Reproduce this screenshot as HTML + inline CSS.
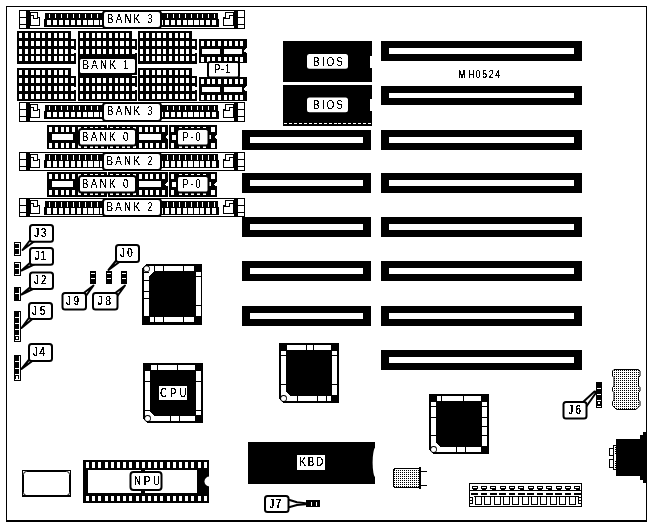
<!DOCTYPE html><html><head><meta charset="utf-8"><style>html,body{margin:0;padding:0;background:#fff}svg{display:block}text{font-family:"Liberation Sans",sans-serif;fill:#000}</style></head><body><svg width="652" height="527" viewBox="0 0 652 527" shape-rendering="crispEdges"><defs><pattern id="dots" width="2" height="2" patternUnits="userSpaceOnUse"><rect width="2" height="2" fill="#fff"/><rect x="0" y="0" width="1" height="1" fill="#000"/></pattern>
<filter id="th" filterUnits="userSpaceOnUse" x="0" y="0" width="652" height="527" color-interpolation-filters="sRGB"><feComponentTransfer><feFuncA type="discrete" tableValues="0 0 0 0 0 0 0 0 1 1 1 1 1 1 1 1 1 1 1 1"/></feComponentTransfer></filter>
<filter id="th2" filterUnits="userSpaceOnUse" x="0" y="0" width="652" height="527" color-interpolation-filters="sRGB"><feComponentTransfer><feFuncA type="discrete" tableValues="0 0 0 0 0 1 1 1 1 1 1 1 1 1 1 1 1 1 1 1"/></feComponentTransfer></filter></defs><rect x="6" y="6" width="641" height="1" fill="#000"/>
<rect x="6" y="6" width="1" height="515" fill="#000"/>
<rect x="646" y="6" width="1" height="515" fill="#000"/>
<rect x="6" y="520" width="641" height="2" fill="#000"/>
<rect x="381" y="41" width="201" height="20" fill="#000"/>
<rect x="389" y="48" width="185" height="6" fill="#fff"/>
<rect x="381" y="86" width="201" height="19" fill="#000"/>
<rect x="389" y="93" width="185" height="5" fill="#fff"/>
<rect x="381" y="130" width="201" height="20" fill="#000"/>
<rect x="389" y="137" width="185" height="6" fill="#fff"/>
<rect x="242" y="130" width="129" height="20" fill="#000"/>
<rect x="250" y="137" width="113" height="6" fill="#fff"/>
<rect x="381" y="173" width="201" height="20" fill="#000"/>
<rect x="389" y="180" width="185" height="6" fill="#fff"/>
<rect x="242" y="173" width="129" height="20" fill="#000"/>
<rect x="250" y="180" width="113" height="6" fill="#fff"/>
<rect x="381" y="217" width="201" height="20" fill="#000"/>
<rect x="389" y="224" width="185" height="6" fill="#fff"/>
<rect x="242" y="217" width="129" height="20" fill="#000"/>
<rect x="250" y="224" width="113" height="6" fill="#fff"/>
<rect x="381" y="261" width="201" height="20" fill="#000"/>
<rect x="389" y="268" width="185" height="6" fill="#fff"/>
<rect x="242" y="261" width="129" height="20" fill="#000"/>
<rect x="250" y="268" width="113" height="6" fill="#fff"/>
<rect x="381" y="306" width="201" height="20" fill="#000"/>
<rect x="389" y="313" width="185" height="6" fill="#fff"/>
<rect x="242" y="306" width="129" height="20" fill="#000"/>
<rect x="250" y="313" width="113" height="6" fill="#fff"/>
<rect x="381" y="350" width="201" height="20" fill="#000"/>
<rect x="389" y="357" width="185" height="6" fill="#fff"/>
<rect x="283" y="41" width="89" height="41" fill="#000"/>
<rect x="370" y="56" width="2" height="12" fill="#fff"/>
<rect x="307" y="54" width="41" height="14.8" rx="2.5" fill="#fff" shape-rendering="geometricPrecision"/>
<rect x="283" y="85" width="89" height="41" fill="#000"/>
<rect x="370" y="99" width="2" height="12" fill="#fff"/>
<rect x="307" y="97.5" width="41" height="14.8" rx="2.5" fill="#fff" shape-rendering="geometricPrecision"/>
<rect x="284" y="123" width="3" height="1" fill="#fff"/>
<rect x="288.95" y="123" width="3" height="1" fill="#fff"/>
<rect x="293.9" y="123" width="3" height="1" fill="#fff"/>
<rect x="298.85" y="123" width="3" height="1" fill="#fff"/>
<rect x="303.8" y="123" width="3" height="1" fill="#fff"/>
<rect x="308.75" y="123" width="3" height="1" fill="#fff"/>
<rect x="313.7" y="123" width="3" height="1" fill="#fff"/>
<rect x="318.65" y="123" width="3" height="1" fill="#fff"/>
<rect x="323.6" y="123" width="3" height="1" fill="#fff"/>
<rect x="328.55" y="123" width="3" height="1" fill="#fff"/>
<rect x="333.5" y="123" width="3" height="1" fill="#fff"/>
<rect x="338.45" y="123" width="3" height="1" fill="#fff"/>
<rect x="343.4" y="123" width="3" height="1" fill="#fff"/>
<rect x="348.35" y="123" width="3" height="1" fill="#fff"/>
<rect x="353.3" y="123" width="3" height="1" fill="#fff"/>
<rect x="358.25" y="123" width="3" height="1" fill="#fff"/>
<rect x="363.2" y="123" width="3" height="1" fill="#fff"/>
<rect x="368.15" y="123" width="3" height="1" fill="#fff"/>
<rect x="19" y="10" width="226" height="19" fill="#000"/>
<rect x="20" y="11" width="224" height="17" fill="#fff"/>
<rect x="26" y="10" width="1" height="19" fill="#000"/>
<rect x="19" y="17" width="8" height="1" fill="#000"/>
<rect x="19" y="24" width="8" height="1" fill="#000"/>
<rect x="27" y="11" width="3" height="17" fill="#000"/>
<rect x="30" y="12" width="10" height="14" fill="#000"/>
<rect x="31" y="13" width="8" height="12" fill="#fff"/>
<rect x="31" y="15" width="3" height="1" fill="#000"/>
<rect x="33" y="15" width="1" height="4" fill="#000"/>
<rect x="33" y="18" width="5" height="1" fill="#000"/>
<rect x="38" y="12" width="2" height="5" fill="#fff"/>
<rect x="37" y="12" width="1" height="6" fill="#000"/>
<rect x="37" y="17" width="3" height="1" fill="#000"/>
<rect x="237" y="10" width="1" height="19" fill="#000"/>
<rect x="237" y="17" width="8" height="1" fill="#000"/>
<rect x="237" y="24" width="8" height="1" fill="#000"/>
<rect x="234" y="11" width="3" height="17" fill="#000"/>
<rect x="223" y="12" width="11" height="14" fill="#000"/>
<rect x="224" y="13" width="9" height="12" fill="#fff"/>
<rect x="229" y="15" width="4" height="1" fill="#000"/>
<rect x="229" y="15" width="1" height="4" fill="#000"/>
<rect x="224" y="18" width="6" height="1" fill="#000"/>
<rect x="223" y="12" width="2" height="5" fill="#fff"/>
<rect x="225" y="12" width="1" height="6" fill="#000"/>
<rect x="223" y="17" width="3" height="1" fill="#000"/>
<rect x="45.4" y="13" width="57.6" height="7" fill="#000"/>
<rect x="44.4" y="19" width="58.6" height="8" fill="#000"/>
<rect x="46.8" y="20" width="4.2" height="5.3" fill="#fff"/>
<rect x="49" y="14" width="1" height="4.3" fill="#fff"/>
<rect x="52.75" y="20" width="4.2" height="5.3" fill="#fff"/>
<rect x="54.95" y="14" width="1" height="4.3" fill="#fff"/>
<rect x="58.7" y="20" width="4.2" height="5.3" fill="#fff"/>
<rect x="60.9" y="14" width="1" height="4.3" fill="#fff"/>
<rect x="64.65" y="20" width="4.2" height="5.3" fill="#fff"/>
<rect x="66.85" y="14" width="1" height="4.3" fill="#fff"/>
<rect x="70.6" y="20" width="4.2" height="5.3" fill="#fff"/>
<rect x="72.8" y="14" width="1" height="4.3" fill="#fff"/>
<rect x="76.55" y="20" width="4.2" height="5.3" fill="#fff"/>
<rect x="78.75" y="14" width="1" height="4.3" fill="#fff"/>
<rect x="82.5" y="20" width="4.2" height="5.3" fill="#fff"/>
<rect x="84.7" y="14" width="1" height="4.3" fill="#fff"/>
<rect x="88.45" y="20" width="4.2" height="5.3" fill="#fff"/>
<rect x="90.65" y="14" width="1" height="4.3" fill="#fff"/>
<rect x="94.4" y="20" width="4.2" height="5.3" fill="#fff"/>
<rect x="96.6" y="14" width="1" height="4.3" fill="#fff"/>
<rect x="100.35" y="20" width="4.2" height="5.3" fill="#fff"/>
<rect x="102.55" y="14" width="1" height="4.3" fill="#fff"/>
<rect x="160" y="13" width="58" height="7" fill="#000"/>
<rect x="160" y="19" width="59.3" height="8" fill="#000"/>
<rect x="159.1" y="20" width="4.2" height="5.3" fill="#fff"/>
<rect x="161.3" y="14" width="1" height="4.3" fill="#fff"/>
<rect x="164.97" y="20" width="4.2" height="5.3" fill="#fff"/>
<rect x="167.17" y="14" width="1" height="4.3" fill="#fff"/>
<rect x="170.85" y="20" width="4.2" height="5.3" fill="#fff"/>
<rect x="173.05" y="14" width="1" height="4.3" fill="#fff"/>
<rect x="176.72" y="20" width="4.2" height="5.3" fill="#fff"/>
<rect x="178.92" y="14" width="1" height="4.3" fill="#fff"/>
<rect x="182.6" y="20" width="4.2" height="5.3" fill="#fff"/>
<rect x="184.8" y="14" width="1" height="4.3" fill="#fff"/>
<rect x="188.47" y="20" width="4.2" height="5.3" fill="#fff"/>
<rect x="190.67" y="14" width="1" height="4.3" fill="#fff"/>
<rect x="194.35" y="20" width="4.2" height="5.3" fill="#fff"/>
<rect x="196.55" y="14" width="1" height="4.3" fill="#fff"/>
<rect x="200.22" y="20" width="4.2" height="5.3" fill="#fff"/>
<rect x="202.42" y="14" width="1" height="4.3" fill="#fff"/>
<rect x="206.1" y="20" width="4.2" height="5.3" fill="#fff"/>
<rect x="208.3" y="14" width="1" height="4.3" fill="#fff"/>
<rect x="211.97" y="20" width="4.2" height="5.3" fill="#fff"/>
<rect x="214.17" y="14" width="1" height="4.3" fill="#fff"/>
<rect x="102" y="10" width="60" height="19" rx="4" fill="#000" shape-rendering="geometricPrecision"/>
<rect x="104" y="12" width="56" height="15" rx="2" fill="#fff" shape-rendering="geometricPrecision"/>
<rect x="19" y="102" width="226" height="20" fill="#000"/>
<rect x="20" y="103" width="224" height="18" fill="#fff"/>
<rect x="26" y="102" width="1" height="20" fill="#000"/>
<rect x="19" y="109" width="8" height="1" fill="#000"/>
<rect x="19" y="116" width="8" height="1" fill="#000"/>
<rect x="27" y="103" width="3" height="18" fill="#000"/>
<rect x="30" y="104" width="10" height="14" fill="#000"/>
<rect x="31" y="105" width="8" height="12" fill="#fff"/>
<rect x="31" y="107" width="3" height="1" fill="#000"/>
<rect x="33" y="107" width="1" height="4" fill="#000"/>
<rect x="33" y="110" width="5" height="1" fill="#000"/>
<rect x="38" y="104" width="2" height="5" fill="#fff"/>
<rect x="37" y="104" width="1" height="6" fill="#000"/>
<rect x="37" y="109" width="3" height="1" fill="#000"/>
<rect x="237" y="102" width="1" height="20" fill="#000"/>
<rect x="237" y="109" width="8" height="1" fill="#000"/>
<rect x="237" y="116" width="8" height="1" fill="#000"/>
<rect x="234" y="103" width="3" height="18" fill="#000"/>
<rect x="223" y="104" width="11" height="14" fill="#000"/>
<rect x="224" y="105" width="9" height="12" fill="#fff"/>
<rect x="229" y="107" width="4" height="1" fill="#000"/>
<rect x="229" y="107" width="1" height="4" fill="#000"/>
<rect x="224" y="110" width="6" height="1" fill="#000"/>
<rect x="223" y="104" width="2" height="5" fill="#fff"/>
<rect x="225" y="104" width="1" height="6" fill="#000"/>
<rect x="223" y="109" width="3" height="1" fill="#000"/>
<rect x="45.4" y="105" width="57.6" height="7" fill="#000"/>
<rect x="44.4" y="111" width="58.6" height="8" fill="#000"/>
<rect x="46.8" y="112" width="4.2" height="5.3" fill="#fff"/>
<rect x="49" y="106" width="1" height="4.3" fill="#fff"/>
<rect x="52.75" y="112" width="4.2" height="5.3" fill="#fff"/>
<rect x="54.95" y="106" width="1" height="4.3" fill="#fff"/>
<rect x="58.7" y="112" width="4.2" height="5.3" fill="#fff"/>
<rect x="60.9" y="106" width="1" height="4.3" fill="#fff"/>
<rect x="64.65" y="112" width="4.2" height="5.3" fill="#fff"/>
<rect x="66.85" y="106" width="1" height="4.3" fill="#fff"/>
<rect x="70.6" y="112" width="4.2" height="5.3" fill="#fff"/>
<rect x="72.8" y="106" width="1" height="4.3" fill="#fff"/>
<rect x="76.55" y="112" width="4.2" height="5.3" fill="#fff"/>
<rect x="78.75" y="106" width="1" height="4.3" fill="#fff"/>
<rect x="82.5" y="112" width="4.2" height="5.3" fill="#fff"/>
<rect x="84.7" y="106" width="1" height="4.3" fill="#fff"/>
<rect x="88.45" y="112" width="4.2" height="5.3" fill="#fff"/>
<rect x="90.65" y="106" width="1" height="4.3" fill="#fff"/>
<rect x="94.4" y="112" width="4.2" height="5.3" fill="#fff"/>
<rect x="96.6" y="106" width="1" height="4.3" fill="#fff"/>
<rect x="100.35" y="112" width="4.2" height="5.3" fill="#fff"/>
<rect x="102.55" y="106" width="1" height="4.3" fill="#fff"/>
<rect x="160" y="105" width="58" height="7" fill="#000"/>
<rect x="160" y="111" width="59.3" height="8" fill="#000"/>
<rect x="159.1" y="112" width="4.2" height="5.3" fill="#fff"/>
<rect x="161.3" y="106" width="1" height="4.3" fill="#fff"/>
<rect x="164.97" y="112" width="4.2" height="5.3" fill="#fff"/>
<rect x="167.17" y="106" width="1" height="4.3" fill="#fff"/>
<rect x="170.85" y="112" width="4.2" height="5.3" fill="#fff"/>
<rect x="173.05" y="106" width="1" height="4.3" fill="#fff"/>
<rect x="176.72" y="112" width="4.2" height="5.3" fill="#fff"/>
<rect x="178.92" y="106" width="1" height="4.3" fill="#fff"/>
<rect x="182.6" y="112" width="4.2" height="5.3" fill="#fff"/>
<rect x="184.8" y="106" width="1" height="4.3" fill="#fff"/>
<rect x="188.47" y="112" width="4.2" height="5.3" fill="#fff"/>
<rect x="190.67" y="106" width="1" height="4.3" fill="#fff"/>
<rect x="194.35" y="112" width="4.2" height="5.3" fill="#fff"/>
<rect x="196.55" y="106" width="1" height="4.3" fill="#fff"/>
<rect x="200.22" y="112" width="4.2" height="5.3" fill="#fff"/>
<rect x="202.42" y="106" width="1" height="4.3" fill="#fff"/>
<rect x="206.1" y="112" width="4.2" height="5.3" fill="#fff"/>
<rect x="208.3" y="106" width="1" height="4.3" fill="#fff"/>
<rect x="211.97" y="112" width="4.2" height="5.3" fill="#fff"/>
<rect x="214.17" y="106" width="1" height="4.3" fill="#fff"/>
<rect x="102" y="102" width="60" height="20" rx="4" fill="#000" shape-rendering="geometricPrecision"/>
<rect x="104" y="104" width="56" height="16" rx="2" fill="#fff" shape-rendering="geometricPrecision"/>
<rect x="19" y="152" width="226" height="19" fill="#000"/>
<rect x="20" y="153" width="224" height="17" fill="#fff"/>
<rect x="26" y="152" width="1" height="19" fill="#000"/>
<rect x="19" y="159" width="8" height="1" fill="#000"/>
<rect x="19" y="166" width="8" height="1" fill="#000"/>
<rect x="27" y="153" width="3" height="17" fill="#000"/>
<rect x="30" y="154" width="10" height="14" fill="#000"/>
<rect x="31" y="155" width="8" height="12" fill="#fff"/>
<rect x="31" y="157" width="3" height="1" fill="#000"/>
<rect x="33" y="157" width="1" height="4" fill="#000"/>
<rect x="33" y="160" width="5" height="1" fill="#000"/>
<rect x="38" y="154" width="2" height="5" fill="#fff"/>
<rect x="37" y="154" width="1" height="6" fill="#000"/>
<rect x="37" y="159" width="3" height="1" fill="#000"/>
<rect x="237" y="152" width="1" height="19" fill="#000"/>
<rect x="237" y="159" width="8" height="1" fill="#000"/>
<rect x="237" y="166" width="8" height="1" fill="#000"/>
<rect x="234" y="153" width="3" height="17" fill="#000"/>
<rect x="223" y="154" width="11" height="14" fill="#000"/>
<rect x="224" y="155" width="9" height="12" fill="#fff"/>
<rect x="229" y="157" width="4" height="1" fill="#000"/>
<rect x="229" y="157" width="1" height="4" fill="#000"/>
<rect x="224" y="160" width="6" height="1" fill="#000"/>
<rect x="223" y="154" width="2" height="5" fill="#fff"/>
<rect x="225" y="154" width="1" height="6" fill="#000"/>
<rect x="223" y="159" width="3" height="1" fill="#000"/>
<rect x="45.4" y="154.4" width="57.6" height="7" fill="#000"/>
<rect x="44.4" y="160.4" width="58.6" height="8" fill="#000"/>
<rect x="46.8" y="161.4" width="4.2" height="5.3" fill="#fff"/>
<rect x="49" y="155.4" width="1" height="4.3" fill="#fff"/>
<rect x="52.75" y="161.4" width="4.2" height="5.3" fill="#fff"/>
<rect x="54.95" y="155.4" width="1" height="4.3" fill="#fff"/>
<rect x="58.7" y="161.4" width="4.2" height="5.3" fill="#fff"/>
<rect x="60.9" y="155.4" width="1" height="4.3" fill="#fff"/>
<rect x="64.65" y="161.4" width="4.2" height="5.3" fill="#fff"/>
<rect x="66.85" y="155.4" width="1" height="4.3" fill="#fff"/>
<rect x="70.6" y="161.4" width="4.2" height="5.3" fill="#fff"/>
<rect x="72.8" y="155.4" width="1" height="4.3" fill="#fff"/>
<rect x="76.55" y="161.4" width="4.2" height="5.3" fill="#fff"/>
<rect x="78.75" y="155.4" width="1" height="4.3" fill="#fff"/>
<rect x="82.5" y="161.4" width="4.2" height="5.3" fill="#fff"/>
<rect x="84.7" y="155.4" width="1" height="4.3" fill="#fff"/>
<rect x="88.45" y="161.4" width="4.2" height="5.3" fill="#fff"/>
<rect x="90.65" y="155.4" width="1" height="4.3" fill="#fff"/>
<rect x="94.4" y="161.4" width="4.2" height="5.3" fill="#fff"/>
<rect x="96.6" y="155.4" width="1" height="4.3" fill="#fff"/>
<rect x="100.35" y="161.4" width="4.2" height="5.3" fill="#fff"/>
<rect x="102.55" y="155.4" width="1" height="4.3" fill="#fff"/>
<rect x="160" y="154.4" width="58" height="7" fill="#000"/>
<rect x="160" y="160.4" width="59.3" height="8" fill="#000"/>
<rect x="159.1" y="161.4" width="4.2" height="5.3" fill="#fff"/>
<rect x="161.3" y="155.4" width="1" height="4.3" fill="#fff"/>
<rect x="164.97" y="161.4" width="4.2" height="5.3" fill="#fff"/>
<rect x="167.17" y="155.4" width="1" height="4.3" fill="#fff"/>
<rect x="170.85" y="161.4" width="4.2" height="5.3" fill="#fff"/>
<rect x="173.05" y="155.4" width="1" height="4.3" fill="#fff"/>
<rect x="176.72" y="161.4" width="4.2" height="5.3" fill="#fff"/>
<rect x="178.92" y="155.4" width="1" height="4.3" fill="#fff"/>
<rect x="182.6" y="161.4" width="4.2" height="5.3" fill="#fff"/>
<rect x="184.8" y="155.4" width="1" height="4.3" fill="#fff"/>
<rect x="188.47" y="161.4" width="4.2" height="5.3" fill="#fff"/>
<rect x="190.67" y="155.4" width="1" height="4.3" fill="#fff"/>
<rect x="194.35" y="161.4" width="4.2" height="5.3" fill="#fff"/>
<rect x="196.55" y="155.4" width="1" height="4.3" fill="#fff"/>
<rect x="200.22" y="161.4" width="4.2" height="5.3" fill="#fff"/>
<rect x="202.42" y="155.4" width="1" height="4.3" fill="#fff"/>
<rect x="206.1" y="161.4" width="4.2" height="5.3" fill="#fff"/>
<rect x="208.3" y="155.4" width="1" height="4.3" fill="#fff"/>
<rect x="211.97" y="161.4" width="4.2" height="5.3" fill="#fff"/>
<rect x="214.17" y="155.4" width="1" height="4.3" fill="#fff"/>
<rect x="102" y="152" width="60" height="19" rx="4" fill="#000" shape-rendering="geometricPrecision"/>
<rect x="104" y="154" width="56" height="15" rx="2" fill="#fff" shape-rendering="geometricPrecision"/>
<rect x="19" y="198" width="226" height="19" fill="#000"/>
<rect x="20" y="199" width="224" height="17" fill="#fff"/>
<rect x="26" y="198" width="1" height="19" fill="#000"/>
<rect x="19" y="205" width="8" height="1" fill="#000"/>
<rect x="19" y="212" width="8" height="1" fill="#000"/>
<rect x="27" y="199" width="3" height="17" fill="#000"/>
<rect x="30" y="200" width="10" height="14" fill="#000"/>
<rect x="31" y="201" width="8" height="12" fill="#fff"/>
<rect x="31" y="203" width="3" height="1" fill="#000"/>
<rect x="33" y="203" width="1" height="4" fill="#000"/>
<rect x="33" y="206" width="5" height="1" fill="#000"/>
<rect x="38" y="200" width="2" height="5" fill="#fff"/>
<rect x="37" y="200" width="1" height="6" fill="#000"/>
<rect x="37" y="205" width="3" height="1" fill="#000"/>
<rect x="237" y="198" width="1" height="19" fill="#000"/>
<rect x="237" y="205" width="8" height="1" fill="#000"/>
<rect x="237" y="212" width="8" height="1" fill="#000"/>
<rect x="234" y="199" width="3" height="17" fill="#000"/>
<rect x="223" y="200" width="11" height="14" fill="#000"/>
<rect x="224" y="201" width="9" height="12" fill="#fff"/>
<rect x="229" y="203" width="4" height="1" fill="#000"/>
<rect x="229" y="203" width="1" height="4" fill="#000"/>
<rect x="224" y="206" width="6" height="1" fill="#000"/>
<rect x="223" y="200" width="2" height="5" fill="#fff"/>
<rect x="225" y="200" width="1" height="6" fill="#000"/>
<rect x="223" y="205" width="3" height="1" fill="#000"/>
<rect x="45.4" y="201.4" width="57.6" height="7" fill="#000"/>
<rect x="44.4" y="207.4" width="58.6" height="8" fill="#000"/>
<rect x="46.8" y="208.4" width="4.2" height="5.3" fill="#fff"/>
<rect x="49" y="202.4" width="1" height="4.3" fill="#fff"/>
<rect x="52.75" y="208.4" width="4.2" height="5.3" fill="#fff"/>
<rect x="54.95" y="202.4" width="1" height="4.3" fill="#fff"/>
<rect x="58.7" y="208.4" width="4.2" height="5.3" fill="#fff"/>
<rect x="60.9" y="202.4" width="1" height="4.3" fill="#fff"/>
<rect x="64.65" y="208.4" width="4.2" height="5.3" fill="#fff"/>
<rect x="66.85" y="202.4" width="1" height="4.3" fill="#fff"/>
<rect x="70.6" y="208.4" width="4.2" height="5.3" fill="#fff"/>
<rect x="72.8" y="202.4" width="1" height="4.3" fill="#fff"/>
<rect x="76.55" y="208.4" width="4.2" height="5.3" fill="#fff"/>
<rect x="78.75" y="202.4" width="1" height="4.3" fill="#fff"/>
<rect x="82.5" y="208.4" width="4.2" height="5.3" fill="#fff"/>
<rect x="84.7" y="202.4" width="1" height="4.3" fill="#fff"/>
<rect x="88.45" y="208.4" width="4.2" height="5.3" fill="#fff"/>
<rect x="90.65" y="202.4" width="1" height="4.3" fill="#fff"/>
<rect x="94.4" y="208.4" width="4.2" height="5.3" fill="#fff"/>
<rect x="96.6" y="202.4" width="1" height="4.3" fill="#fff"/>
<rect x="100.35" y="208.4" width="4.2" height="5.3" fill="#fff"/>
<rect x="102.55" y="202.4" width="1" height="4.3" fill="#fff"/>
<rect x="160" y="201.4" width="58" height="7" fill="#000"/>
<rect x="160" y="207.4" width="59.3" height="8" fill="#000"/>
<rect x="159.1" y="208.4" width="4.2" height="5.3" fill="#fff"/>
<rect x="161.3" y="202.4" width="1" height="4.3" fill="#fff"/>
<rect x="164.97" y="208.4" width="4.2" height="5.3" fill="#fff"/>
<rect x="167.17" y="202.4" width="1" height="4.3" fill="#fff"/>
<rect x="170.85" y="208.4" width="4.2" height="5.3" fill="#fff"/>
<rect x="173.05" y="202.4" width="1" height="4.3" fill="#fff"/>
<rect x="176.72" y="208.4" width="4.2" height="5.3" fill="#fff"/>
<rect x="178.92" y="202.4" width="1" height="4.3" fill="#fff"/>
<rect x="182.6" y="208.4" width="4.2" height="5.3" fill="#fff"/>
<rect x="184.8" y="202.4" width="1" height="4.3" fill="#fff"/>
<rect x="188.47" y="208.4" width="4.2" height="5.3" fill="#fff"/>
<rect x="190.67" y="202.4" width="1" height="4.3" fill="#fff"/>
<rect x="194.35" y="208.4" width="4.2" height="5.3" fill="#fff"/>
<rect x="196.55" y="202.4" width="1" height="4.3" fill="#fff"/>
<rect x="200.22" y="208.4" width="4.2" height="5.3" fill="#fff"/>
<rect x="202.42" y="202.4" width="1" height="4.3" fill="#fff"/>
<rect x="206.1" y="208.4" width="4.2" height="5.3" fill="#fff"/>
<rect x="208.3" y="202.4" width="1" height="4.3" fill="#fff"/>
<rect x="211.97" y="208.4" width="4.2" height="5.3" fill="#fff"/>
<rect x="214.17" y="202.4" width="1" height="4.3" fill="#fff"/>
<rect x="102" y="198" width="60" height="19" rx="4" fill="#000" shape-rendering="geometricPrecision"/>
<rect x="104" y="200" width="56" height="15" rx="2" fill="#fff" shape-rendering="geometricPrecision"/>
<rect x="17" y="31" width="54.3" height="9" fill="#000"/>
<rect x="17" y="39" width="59" height="24.7" fill="#000"/>
<rect x="19" y="33" width="3" height="5.2" fill="#fff"/>
<rect x="24.75" y="33" width="3" height="5.2" fill="#fff"/>
<rect x="30.5" y="33" width="3" height="5.2" fill="#fff"/>
<rect x="35.75" y="33" width="4" height="5.2" fill="#fff"/>
<rect x="42" y="33" width="3" height="5.2" fill="#fff"/>
<rect x="47.75" y="33" width="3" height="5.2" fill="#fff"/>
<rect x="53.5" y="33" width="3" height="5.2" fill="#fff"/>
<rect x="58.75" y="33" width="4" height="5.2" fill="#fff"/>
<rect x="65" y="33" width="3" height="5.2" fill="#fff"/>
<rect x="19" y="40.75" width="3" height="5.2" fill="#fff"/>
<rect x="24.75" y="40.75" width="3" height="5.2" fill="#fff"/>
<rect x="30.5" y="40.75" width="3" height="5.2" fill="#fff"/>
<rect x="35.75" y="40.75" width="4" height="5.2" fill="#fff"/>
<rect x="42" y="40.75" width="3" height="5.2" fill="#fff"/>
<rect x="47.75" y="40.75" width="3" height="5.2" fill="#fff"/>
<rect x="53.5" y="40.75" width="3" height="5.2" fill="#fff"/>
<rect x="58.75" y="40.75" width="4" height="5.2" fill="#fff"/>
<rect x="65" y="40.75" width="3" height="5.2" fill="#fff"/>
<rect x="70.75" y="40.75" width="3" height="5.2" fill="#fff"/>
<rect x="19" y="48.5" width="3" height="5.2" fill="#fff"/>
<rect x="24.75" y="48.5" width="3" height="5.2" fill="#fff"/>
<rect x="30.5" y="48.5" width="3" height="5.2" fill="#fff"/>
<rect x="35.75" y="48.5" width="4" height="5.2" fill="#fff"/>
<rect x="42" y="48.5" width="3" height="5.2" fill="#fff"/>
<rect x="47.75" y="48.5" width="3" height="5.2" fill="#fff"/>
<rect x="53.5" y="48.5" width="3" height="5.2" fill="#fff"/>
<rect x="58.75" y="48.5" width="4" height="5.2" fill="#fff"/>
<rect x="65" y="48.5" width="3" height="5.2" fill="#fff"/>
<rect x="70.75" y="48.5" width="3" height="5.2" fill="#fff"/>
<rect x="19" y="56.25" width="3" height="5.2" fill="#fff"/>
<rect x="24.75" y="56.25" width="3" height="5.2" fill="#fff"/>
<rect x="30.5" y="56.25" width="3" height="5.2" fill="#fff"/>
<rect x="35.75" y="56.25" width="4" height="5.2" fill="#fff"/>
<rect x="42" y="56.25" width="3" height="5.2" fill="#fff"/>
<rect x="47.75" y="56.25" width="3" height="5.2" fill="#fff"/>
<rect x="53.5" y="56.25" width="3" height="5.2" fill="#fff"/>
<rect x="58.75" y="56.25" width="4" height="5.2" fill="#fff"/>
<rect x="65" y="56.25" width="3" height="5.2" fill="#fff"/>
<rect x="70.75" y="56.25" width="3" height="5.2" fill="#fff"/>
<rect x="74" y="49.5" width="2" height="3" fill="#fff"/>
<rect x="17" y="68" width="54.3" height="9" fill="#000"/>
<rect x="17" y="76" width="59" height="25" fill="#000"/>
<rect x="19" y="70" width="3" height="5.2" fill="#fff"/>
<rect x="24.75" y="70" width="3" height="5.2" fill="#fff"/>
<rect x="30.5" y="70" width="3" height="5.2" fill="#fff"/>
<rect x="35.75" y="70" width="4" height="5.2" fill="#fff"/>
<rect x="42" y="70" width="3" height="5.2" fill="#fff"/>
<rect x="47.75" y="70" width="3" height="5.2" fill="#fff"/>
<rect x="53.5" y="70" width="3" height="5.2" fill="#fff"/>
<rect x="58.75" y="70" width="4" height="5.2" fill="#fff"/>
<rect x="65" y="70" width="3" height="5.2" fill="#fff"/>
<rect x="19" y="78" width="3" height="5.2" fill="#fff"/>
<rect x="24.75" y="78" width="3" height="5.2" fill="#fff"/>
<rect x="30.5" y="78" width="3" height="5.2" fill="#fff"/>
<rect x="35.75" y="78" width="4" height="5.2" fill="#fff"/>
<rect x="42" y="78" width="3" height="5.2" fill="#fff"/>
<rect x="47.75" y="78" width="3" height="5.2" fill="#fff"/>
<rect x="53.5" y="78" width="3" height="5.2" fill="#fff"/>
<rect x="58.75" y="78" width="4" height="5.2" fill="#fff"/>
<rect x="65" y="78" width="3" height="5.2" fill="#fff"/>
<rect x="70.75" y="78" width="3" height="5.2" fill="#fff"/>
<rect x="19" y="86" width="3" height="5.2" fill="#fff"/>
<rect x="24.75" y="86" width="3" height="5.2" fill="#fff"/>
<rect x="30.5" y="86" width="3" height="5.2" fill="#fff"/>
<rect x="35.75" y="86" width="4" height="5.2" fill="#fff"/>
<rect x="42" y="86" width="3" height="5.2" fill="#fff"/>
<rect x="47.75" y="86" width="3" height="5.2" fill="#fff"/>
<rect x="53.5" y="86" width="3" height="5.2" fill="#fff"/>
<rect x="58.75" y="86" width="4" height="5.2" fill="#fff"/>
<rect x="65" y="86" width="3" height="5.2" fill="#fff"/>
<rect x="70.75" y="86" width="3" height="5.2" fill="#fff"/>
<rect x="19" y="94" width="3" height="5.2" fill="#fff"/>
<rect x="24.75" y="94" width="3" height="5.2" fill="#fff"/>
<rect x="30.5" y="94" width="3" height="5.2" fill="#fff"/>
<rect x="35.75" y="94" width="4" height="5.2" fill="#fff"/>
<rect x="42" y="94" width="3" height="5.2" fill="#fff"/>
<rect x="47.75" y="94" width="3" height="5.2" fill="#fff"/>
<rect x="53.5" y="94" width="3" height="5.2" fill="#fff"/>
<rect x="58.75" y="94" width="4" height="5.2" fill="#fff"/>
<rect x="65" y="94" width="3" height="5.2" fill="#fff"/>
<rect x="70.75" y="94" width="3" height="5.2" fill="#fff"/>
<rect x="74" y="87" width="2" height="3" fill="#fff"/>
<rect x="78" y="31" width="54.3" height="9" fill="#000"/>
<rect x="78" y="39" width="59" height="24.7" fill="#000"/>
<rect x="80" y="33" width="3" height="5.2" fill="#fff"/>
<rect x="85.75" y="33" width="3" height="5.2" fill="#fff"/>
<rect x="91.5" y="33" width="3" height="5.2" fill="#fff"/>
<rect x="96.75" y="33" width="4" height="5.2" fill="#fff"/>
<rect x="103" y="33" width="3" height="5.2" fill="#fff"/>
<rect x="108.75" y="33" width="3" height="5.2" fill="#fff"/>
<rect x="114.5" y="33" width="3" height="5.2" fill="#fff"/>
<rect x="119.75" y="33" width="4" height="5.2" fill="#fff"/>
<rect x="126" y="33" width="3" height="5.2" fill="#fff"/>
<rect x="80" y="40.75" width="3" height="5.2" fill="#fff"/>
<rect x="85.75" y="40.75" width="3" height="5.2" fill="#fff"/>
<rect x="91.5" y="40.75" width="3" height="5.2" fill="#fff"/>
<rect x="96.75" y="40.75" width="4" height="5.2" fill="#fff"/>
<rect x="103" y="40.75" width="3" height="5.2" fill="#fff"/>
<rect x="108.75" y="40.75" width="3" height="5.2" fill="#fff"/>
<rect x="114.5" y="40.75" width="3" height="5.2" fill="#fff"/>
<rect x="119.75" y="40.75" width="4" height="5.2" fill="#fff"/>
<rect x="126" y="40.75" width="3" height="5.2" fill="#fff"/>
<rect x="131.75" y="40.75" width="3" height="5.2" fill="#fff"/>
<rect x="80" y="48.5" width="3" height="5.2" fill="#fff"/>
<rect x="85.75" y="48.5" width="3" height="5.2" fill="#fff"/>
<rect x="91.5" y="48.5" width="3" height="5.2" fill="#fff"/>
<rect x="96.75" y="48.5" width="4" height="5.2" fill="#fff"/>
<rect x="103" y="48.5" width="3" height="5.2" fill="#fff"/>
<rect x="108.75" y="48.5" width="3" height="5.2" fill="#fff"/>
<rect x="114.5" y="48.5" width="3" height="5.2" fill="#fff"/>
<rect x="119.75" y="48.5" width="4" height="5.2" fill="#fff"/>
<rect x="126" y="48.5" width="3" height="5.2" fill="#fff"/>
<rect x="131.75" y="48.5" width="3" height="5.2" fill="#fff"/>
<rect x="80" y="56.25" width="3" height="5.2" fill="#fff"/>
<rect x="85.75" y="56.25" width="3" height="5.2" fill="#fff"/>
<rect x="91.5" y="56.25" width="3" height="5.2" fill="#fff"/>
<rect x="96.75" y="56.25" width="4" height="5.2" fill="#fff"/>
<rect x="103" y="56.25" width="3" height="5.2" fill="#fff"/>
<rect x="108.75" y="56.25" width="3" height="5.2" fill="#fff"/>
<rect x="114.5" y="56.25" width="3" height="5.2" fill="#fff"/>
<rect x="119.75" y="56.25" width="4" height="5.2" fill="#fff"/>
<rect x="126" y="56.25" width="3" height="5.2" fill="#fff"/>
<rect x="131.75" y="56.25" width="3" height="5.2" fill="#fff"/>
<rect x="135" y="49.5" width="2" height="3" fill="#fff"/>
<rect x="78" y="68" width="54.3" height="9" fill="#000"/>
<rect x="78" y="76" width="59" height="25" fill="#000"/>
<rect x="80" y="70" width="3" height="5.2" fill="#fff"/>
<rect x="85.75" y="70" width="3" height="5.2" fill="#fff"/>
<rect x="91.5" y="70" width="3" height="5.2" fill="#fff"/>
<rect x="96.75" y="70" width="4" height="5.2" fill="#fff"/>
<rect x="103" y="70" width="3" height="5.2" fill="#fff"/>
<rect x="108.75" y="70" width="3" height="5.2" fill="#fff"/>
<rect x="114.5" y="70" width="3" height="5.2" fill="#fff"/>
<rect x="119.75" y="70" width="4" height="5.2" fill="#fff"/>
<rect x="126" y="70" width="3" height="5.2" fill="#fff"/>
<rect x="80" y="78" width="3" height="5.2" fill="#fff"/>
<rect x="85.75" y="78" width="3" height="5.2" fill="#fff"/>
<rect x="91.5" y="78" width="3" height="5.2" fill="#fff"/>
<rect x="96.75" y="78" width="4" height="5.2" fill="#fff"/>
<rect x="103" y="78" width="3" height="5.2" fill="#fff"/>
<rect x="108.75" y="78" width="3" height="5.2" fill="#fff"/>
<rect x="114.5" y="78" width="3" height="5.2" fill="#fff"/>
<rect x="119.75" y="78" width="4" height="5.2" fill="#fff"/>
<rect x="126" y="78" width="3" height="5.2" fill="#fff"/>
<rect x="131.75" y="78" width="3" height="5.2" fill="#fff"/>
<rect x="80" y="86" width="3" height="5.2" fill="#fff"/>
<rect x="85.75" y="86" width="3" height="5.2" fill="#fff"/>
<rect x="91.5" y="86" width="3" height="5.2" fill="#fff"/>
<rect x="96.75" y="86" width="4" height="5.2" fill="#fff"/>
<rect x="103" y="86" width="3" height="5.2" fill="#fff"/>
<rect x="108.75" y="86" width="3" height="5.2" fill="#fff"/>
<rect x="114.5" y="86" width="3" height="5.2" fill="#fff"/>
<rect x="119.75" y="86" width="4" height="5.2" fill="#fff"/>
<rect x="126" y="86" width="3" height="5.2" fill="#fff"/>
<rect x="131.75" y="86" width="3" height="5.2" fill="#fff"/>
<rect x="80" y="94" width="3" height="5.2" fill="#fff"/>
<rect x="85.75" y="94" width="3" height="5.2" fill="#fff"/>
<rect x="91.5" y="94" width="3" height="5.2" fill="#fff"/>
<rect x="96.75" y="94" width="4" height="5.2" fill="#fff"/>
<rect x="103" y="94" width="3" height="5.2" fill="#fff"/>
<rect x="108.75" y="94" width="3" height="5.2" fill="#fff"/>
<rect x="114.5" y="94" width="3" height="5.2" fill="#fff"/>
<rect x="119.75" y="94" width="4" height="5.2" fill="#fff"/>
<rect x="126" y="94" width="3" height="5.2" fill="#fff"/>
<rect x="131.75" y="94" width="3" height="5.2" fill="#fff"/>
<rect x="135" y="87" width="2" height="3" fill="#fff"/>
<rect x="138" y="31" width="54.3" height="9" fill="#000"/>
<rect x="138" y="39" width="59" height="24.7" fill="#000"/>
<rect x="140" y="33" width="3" height="5.2" fill="#fff"/>
<rect x="145.75" y="33" width="3" height="5.2" fill="#fff"/>
<rect x="151.5" y="33" width="3" height="5.2" fill="#fff"/>
<rect x="156.75" y="33" width="4" height="5.2" fill="#fff"/>
<rect x="163" y="33" width="3" height="5.2" fill="#fff"/>
<rect x="168.75" y="33" width="3" height="5.2" fill="#fff"/>
<rect x="174.5" y="33" width="3" height="5.2" fill="#fff"/>
<rect x="179.75" y="33" width="4" height="5.2" fill="#fff"/>
<rect x="186" y="33" width="3" height="5.2" fill="#fff"/>
<rect x="140" y="40.75" width="3" height="5.2" fill="#fff"/>
<rect x="145.75" y="40.75" width="3" height="5.2" fill="#fff"/>
<rect x="151.5" y="40.75" width="3" height="5.2" fill="#fff"/>
<rect x="156.75" y="40.75" width="4" height="5.2" fill="#fff"/>
<rect x="163" y="40.75" width="3" height="5.2" fill="#fff"/>
<rect x="168.75" y="40.75" width="3" height="5.2" fill="#fff"/>
<rect x="174.5" y="40.75" width="3" height="5.2" fill="#fff"/>
<rect x="179.75" y="40.75" width="4" height="5.2" fill="#fff"/>
<rect x="186" y="40.75" width="3" height="5.2" fill="#fff"/>
<rect x="191.75" y="40.75" width="3" height="5.2" fill="#fff"/>
<rect x="140" y="48.5" width="3" height="5.2" fill="#fff"/>
<rect x="145.75" y="48.5" width="3" height="5.2" fill="#fff"/>
<rect x="151.5" y="48.5" width="3" height="5.2" fill="#fff"/>
<rect x="156.75" y="48.5" width="4" height="5.2" fill="#fff"/>
<rect x="163" y="48.5" width="3" height="5.2" fill="#fff"/>
<rect x="168.75" y="48.5" width="3" height="5.2" fill="#fff"/>
<rect x="174.5" y="48.5" width="3" height="5.2" fill="#fff"/>
<rect x="179.75" y="48.5" width="4" height="5.2" fill="#fff"/>
<rect x="186" y="48.5" width="3" height="5.2" fill="#fff"/>
<rect x="191.75" y="48.5" width="3" height="5.2" fill="#fff"/>
<rect x="140" y="56.25" width="3" height="5.2" fill="#fff"/>
<rect x="145.75" y="56.25" width="3" height="5.2" fill="#fff"/>
<rect x="151.5" y="56.25" width="3" height="5.2" fill="#fff"/>
<rect x="156.75" y="56.25" width="4" height="5.2" fill="#fff"/>
<rect x="163" y="56.25" width="3" height="5.2" fill="#fff"/>
<rect x="168.75" y="56.25" width="3" height="5.2" fill="#fff"/>
<rect x="174.5" y="56.25" width="3" height="5.2" fill="#fff"/>
<rect x="179.75" y="56.25" width="4" height="5.2" fill="#fff"/>
<rect x="186" y="56.25" width="3" height="5.2" fill="#fff"/>
<rect x="191.75" y="56.25" width="3" height="5.2" fill="#fff"/>
<rect x="195" y="49.5" width="2" height="3" fill="#fff"/>
<rect x="138" y="68" width="54.3" height="9" fill="#000"/>
<rect x="138" y="76" width="59" height="25" fill="#000"/>
<rect x="140" y="70" width="3" height="5.2" fill="#fff"/>
<rect x="145.75" y="70" width="3" height="5.2" fill="#fff"/>
<rect x="151.5" y="70" width="3" height="5.2" fill="#fff"/>
<rect x="156.75" y="70" width="4" height="5.2" fill="#fff"/>
<rect x="163" y="70" width="3" height="5.2" fill="#fff"/>
<rect x="168.75" y="70" width="3" height="5.2" fill="#fff"/>
<rect x="174.5" y="70" width="3" height="5.2" fill="#fff"/>
<rect x="179.75" y="70" width="4" height="5.2" fill="#fff"/>
<rect x="186" y="70" width="3" height="5.2" fill="#fff"/>
<rect x="140" y="78" width="3" height="5.2" fill="#fff"/>
<rect x="145.75" y="78" width="3" height="5.2" fill="#fff"/>
<rect x="151.5" y="78" width="3" height="5.2" fill="#fff"/>
<rect x="156.75" y="78" width="4" height="5.2" fill="#fff"/>
<rect x="163" y="78" width="3" height="5.2" fill="#fff"/>
<rect x="168.75" y="78" width="3" height="5.2" fill="#fff"/>
<rect x="174.5" y="78" width="3" height="5.2" fill="#fff"/>
<rect x="179.75" y="78" width="4" height="5.2" fill="#fff"/>
<rect x="186" y="78" width="3" height="5.2" fill="#fff"/>
<rect x="191.75" y="78" width="3" height="5.2" fill="#fff"/>
<rect x="140" y="86" width="3" height="5.2" fill="#fff"/>
<rect x="145.75" y="86" width="3" height="5.2" fill="#fff"/>
<rect x="151.5" y="86" width="3" height="5.2" fill="#fff"/>
<rect x="156.75" y="86" width="4" height="5.2" fill="#fff"/>
<rect x="163" y="86" width="3" height="5.2" fill="#fff"/>
<rect x="168.75" y="86" width="3" height="5.2" fill="#fff"/>
<rect x="174.5" y="86" width="3" height="5.2" fill="#fff"/>
<rect x="179.75" y="86" width="4" height="5.2" fill="#fff"/>
<rect x="186" y="86" width="3" height="5.2" fill="#fff"/>
<rect x="191.75" y="86" width="3" height="5.2" fill="#fff"/>
<rect x="140" y="94" width="3" height="5.2" fill="#fff"/>
<rect x="145.75" y="94" width="3" height="5.2" fill="#fff"/>
<rect x="151.5" y="94" width="3" height="5.2" fill="#fff"/>
<rect x="156.75" y="94" width="4" height="5.2" fill="#fff"/>
<rect x="163" y="94" width="3" height="5.2" fill="#fff"/>
<rect x="168.75" y="94" width="3" height="5.2" fill="#fff"/>
<rect x="174.5" y="94" width="3" height="5.2" fill="#fff"/>
<rect x="179.75" y="94" width="4" height="5.2" fill="#fff"/>
<rect x="186" y="94" width="3" height="5.2" fill="#fff"/>
<rect x="191.75" y="94" width="3" height="5.2" fill="#fff"/>
<rect x="195" y="87" width="2" height="3" fill="#fff"/>
<rect x="78" y="55" width="59" height="20" fill="#000"/>
<rect x="80" y="59" width="55" height="14" rx="1.5" fill="#fff" shape-rendering="geometricPrecision"/>
<rect x="47" y="125" width="60.4" height="24" fill="#000"/>
<rect x="49" y="127" width="3" height="5" fill="#fff"/>
<rect x="49" y="143" width="3" height="5" fill="#fff"/>
<rect x="54.79" y="127" width="3" height="5" fill="#fff"/>
<rect x="54.79" y="143" width="3" height="5" fill="#fff"/>
<rect x="60.58" y="127" width="3" height="5" fill="#fff"/>
<rect x="60.58" y="143" width="3" height="5" fill="#fff"/>
<rect x="66.37" y="127" width="3" height="5" fill="#fff"/>
<rect x="66.37" y="143" width="3" height="5" fill="#fff"/>
<rect x="72.16" y="127" width="3" height="5" fill="#fff"/>
<rect x="72.16" y="143" width="3" height="5" fill="#fff"/>
<rect x="77.95" y="127" width="3" height="5" fill="#fff"/>
<rect x="77.95" y="143" width="3" height="5" fill="#fff"/>
<rect x="83.74" y="127" width="3" height="5" fill="#fff"/>
<rect x="83.74" y="143" width="3" height="5" fill="#fff"/>
<rect x="89.53" y="127" width="3" height="5" fill="#fff"/>
<rect x="89.53" y="143" width="3" height="5" fill="#fff"/>
<rect x="95.32" y="127" width="3" height="5" fill="#fff"/>
<rect x="95.32" y="143" width="3" height="5" fill="#fff"/>
<rect x="101.11" y="127" width="3" height="5" fill="#fff"/>
<rect x="101.11" y="143" width="3" height="5" fill="#fff"/>
<rect x="52" y="134" width="21" height="6" fill="#fff"/>
<rect x="108" y="125" width="60" height="24" fill="#000"/>
<rect x="110" y="127" width="3" height="5" fill="#fff"/>
<rect x="110" y="143" width="3" height="5" fill="#fff"/>
<rect x="115.75" y="127" width="3" height="5" fill="#fff"/>
<rect x="115.75" y="143" width="3" height="5" fill="#fff"/>
<rect x="121.5" y="127" width="3" height="5" fill="#fff"/>
<rect x="121.5" y="143" width="3" height="5" fill="#fff"/>
<rect x="127.25" y="127" width="3" height="5" fill="#fff"/>
<rect x="127.25" y="143" width="3" height="5" fill="#fff"/>
<rect x="133" y="127" width="3" height="5" fill="#fff"/>
<rect x="133" y="143" width="3" height="5" fill="#fff"/>
<rect x="138.75" y="127" width="3" height="5" fill="#fff"/>
<rect x="138.75" y="143" width="3" height="5" fill="#fff"/>
<rect x="144.5" y="127" width="3" height="5" fill="#fff"/>
<rect x="144.5" y="143" width="3" height="5" fill="#fff"/>
<rect x="150.25" y="127" width="3" height="5" fill="#fff"/>
<rect x="150.25" y="143" width="3" height="5" fill="#fff"/>
<rect x="156" y="127" width="3" height="5" fill="#fff"/>
<rect x="156" y="143" width="3" height="5" fill="#fff"/>
<rect x="161.75" y="127" width="3" height="5" fill="#fff"/>
<rect x="161.75" y="143" width="3" height="5" fill="#fff"/>
<rect x="139" y="134" width="22" height="6" fill="#fff"/>
<polygon points="168,134.5 168,139.5 165,137" fill="#fff"/>
<rect x="169" y="125" width="48" height="24" fill="#000"/>
<rect x="170.5" y="127" width="3.5" height="4.7" fill="#fff"/>
<rect x="172" y="135" width="4" height="4.7" fill="#fff"/>
<rect x="171" y="143" width="3.3" height="4.7" fill="#fff"/>
<rect x="211.2" y="127" width="3.3" height="4.7" fill="#fff"/>
<rect x="209" y="135" width="2.3" height="4.3" fill="#fff"/>
<rect x="211.2" y="143" width="3.3" height="4.7" fill="#fff"/>
<rect x="179" y="127" width="3" height="5" fill="#fff"/>
<rect x="179" y="143" width="3" height="5" fill="#fff"/>
<rect x="185" y="127" width="3" height="5" fill="#fff"/>
<rect x="185" y="143" width="3" height="5" fill="#fff"/>
<rect x="191" y="127" width="3" height="5" fill="#fff"/>
<rect x="191" y="143" width="3" height="5" fill="#fff"/>
<rect x="197" y="127" width="3" height="5" fill="#fff"/>
<rect x="197" y="143" width="3" height="5" fill="#fff"/>
<rect x="203" y="127" width="3" height="5" fill="#fff"/>
<rect x="203" y="143" width="3" height="5" fill="#fff"/>
<polygon points="217,134.5 217,139.5 214,137" fill="#fff"/>
<rect x="78" y="128" width="59" height="18.5" rx="3.5" fill="#000" shape-rendering="geometricPrecision"/>
<rect x="80" y="130" width="55" height="14.5" rx="1.5" fill="#fff" shape-rendering="geometricPrecision"/>
<rect x="176" y="128" width="33.5" height="18.5" rx="3.5" fill="#000" shape-rendering="geometricPrecision"/>
<rect x="178" y="130" width="29.5" height="14.5" rx="1.5" fill="#fff" shape-rendering="geometricPrecision"/>
<rect x="47" y="172" width="60.4" height="24.5" fill="#000"/>
<rect x="49" y="174" width="3" height="5" fill="#fff"/>
<rect x="49" y="190" width="3" height="5" fill="#fff"/>
<rect x="54.79" y="174" width="3" height="5" fill="#fff"/>
<rect x="54.79" y="190" width="3" height="5" fill="#fff"/>
<rect x="60.58" y="174" width="3" height="5" fill="#fff"/>
<rect x="60.58" y="190" width="3" height="5" fill="#fff"/>
<rect x="66.37" y="174" width="3" height="5" fill="#fff"/>
<rect x="66.37" y="190" width="3" height="5" fill="#fff"/>
<rect x="72.16" y="174" width="3" height="5" fill="#fff"/>
<rect x="72.16" y="190" width="3" height="5" fill="#fff"/>
<rect x="77.95" y="174" width="3" height="5" fill="#fff"/>
<rect x="77.95" y="190" width="3" height="5" fill="#fff"/>
<rect x="83.74" y="174" width="3" height="5" fill="#fff"/>
<rect x="83.74" y="190" width="3" height="5" fill="#fff"/>
<rect x="89.53" y="174" width="3" height="5" fill="#fff"/>
<rect x="89.53" y="190" width="3" height="5" fill="#fff"/>
<rect x="95.32" y="174" width="3" height="5" fill="#fff"/>
<rect x="95.32" y="190" width="3" height="5" fill="#fff"/>
<rect x="101.11" y="174" width="3" height="5" fill="#fff"/>
<rect x="101.11" y="190" width="3" height="5" fill="#fff"/>
<rect x="52" y="181" width="21" height="6" fill="#fff"/>
<rect x="108" y="172" width="60" height="24.5" fill="#000"/>
<rect x="110" y="174" width="3" height="5" fill="#fff"/>
<rect x="110" y="190" width="3" height="5" fill="#fff"/>
<rect x="115.75" y="174" width="3" height="5" fill="#fff"/>
<rect x="115.75" y="190" width="3" height="5" fill="#fff"/>
<rect x="121.5" y="174" width="3" height="5" fill="#fff"/>
<rect x="121.5" y="190" width="3" height="5" fill="#fff"/>
<rect x="127.25" y="174" width="3" height="5" fill="#fff"/>
<rect x="127.25" y="190" width="3" height="5" fill="#fff"/>
<rect x="133" y="174" width="3" height="5" fill="#fff"/>
<rect x="133" y="190" width="3" height="5" fill="#fff"/>
<rect x="138.75" y="174" width="3" height="5" fill="#fff"/>
<rect x="138.75" y="190" width="3" height="5" fill="#fff"/>
<rect x="144.5" y="174" width="3" height="5" fill="#fff"/>
<rect x="144.5" y="190" width="3" height="5" fill="#fff"/>
<rect x="150.25" y="174" width="3" height="5" fill="#fff"/>
<rect x="150.25" y="190" width="3" height="5" fill="#fff"/>
<rect x="156" y="174" width="3" height="5" fill="#fff"/>
<rect x="156" y="190" width="3" height="5" fill="#fff"/>
<rect x="161.75" y="174" width="3" height="5" fill="#fff"/>
<rect x="161.75" y="190" width="3" height="5" fill="#fff"/>
<rect x="139" y="181" width="22" height="6" fill="#fff"/>
<polygon points="168,181.75 168,186.75 165,184.25" fill="#fff"/>
<rect x="169" y="172" width="48" height="24.5" fill="#000"/>
<rect x="170.5" y="174" width="3.5" height="4.7" fill="#fff"/>
<rect x="172" y="182" width="4" height="4.7" fill="#fff"/>
<rect x="171" y="190" width="3.3" height="4.7" fill="#fff"/>
<rect x="211.2" y="174" width="3.3" height="4.7" fill="#fff"/>
<rect x="209" y="182" width="2.3" height="4.3" fill="#fff"/>
<rect x="211.2" y="190" width="3.3" height="4.7" fill="#fff"/>
<rect x="179" y="174" width="3" height="5" fill="#fff"/>
<rect x="179" y="190" width="3" height="5" fill="#fff"/>
<rect x="185" y="174" width="3" height="5" fill="#fff"/>
<rect x="185" y="190" width="3" height="5" fill="#fff"/>
<rect x="191" y="174" width="3" height="5" fill="#fff"/>
<rect x="191" y="190" width="3" height="5" fill="#fff"/>
<rect x="197" y="174" width="3" height="5" fill="#fff"/>
<rect x="197" y="190" width="3" height="5" fill="#fff"/>
<rect x="203" y="174" width="3" height="5" fill="#fff"/>
<rect x="203" y="190" width="3" height="5" fill="#fff"/>
<polygon points="217,181.75 217,186.75 214,184.25" fill="#fff"/>
<rect x="78" y="175" width="59" height="18.5" rx="3.5" fill="#000" shape-rendering="geometricPrecision"/>
<rect x="80" y="177" width="55" height="14.5" rx="1.5" fill="#fff" shape-rendering="geometricPrecision"/>
<rect x="176" y="175" width="33.5" height="18.5" rx="3.5" fill="#000" shape-rendering="geometricPrecision"/>
<rect x="178" y="177" width="29.5" height="14.5" rx="1.5" fill="#fff" shape-rendering="geometricPrecision"/>
<rect x="199" y="39" width="47.5" height="23.6" fill="#000"/>
<rect x="201" y="41" width="3" height="5" fill="#fff"/>
<rect x="201" y="57" width="3" height="5" fill="#fff"/>
<rect x="206.62" y="41" width="3" height="5" fill="#fff"/>
<rect x="206.62" y="57" width="3" height="5" fill="#fff"/>
<rect x="212.25" y="41" width="3" height="5" fill="#fff"/>
<rect x="212.25" y="57" width="3" height="5" fill="#fff"/>
<rect x="217.88" y="41" width="3" height="5" fill="#fff"/>
<rect x="217.88" y="57" width="3" height="5" fill="#fff"/>
<rect x="223.5" y="41" width="3" height="5" fill="#fff"/>
<rect x="223.5" y="57" width="3" height="5" fill="#fff"/>
<rect x="229.12" y="41" width="3" height="5" fill="#fff"/>
<rect x="229.12" y="57" width="3" height="5" fill="#fff"/>
<rect x="234.75" y="41" width="3" height="5" fill="#fff"/>
<rect x="234.75" y="57" width="3" height="5" fill="#fff"/>
<rect x="240.38" y="41" width="3" height="5" fill="#fff"/>
<rect x="240.38" y="57" width="3" height="5" fill="#fff"/>
<rect x="201.7" y="49" width="18.3" height="5" fill="#fff"/>
<rect x="224" y="49" width="18" height="5" fill="#fff"/>
<polygon points="246.5,48.3 246.5,53.3 243.5,50.8" fill="#fff"/>
<rect x="199" y="77" width="47.5" height="23.8" fill="#000"/>
<rect x="201" y="79" width="3" height="5" fill="#fff"/>
<rect x="201" y="95" width="3" height="5" fill="#fff"/>
<rect x="206.62" y="79" width="3" height="5" fill="#fff"/>
<rect x="206.62" y="95" width="3" height="5" fill="#fff"/>
<rect x="212.25" y="79" width="3" height="5" fill="#fff"/>
<rect x="212.25" y="95" width="3" height="5" fill="#fff"/>
<rect x="217.88" y="79" width="3" height="5" fill="#fff"/>
<rect x="217.88" y="95" width="3" height="5" fill="#fff"/>
<rect x="223.5" y="79" width="3" height="5" fill="#fff"/>
<rect x="223.5" y="95" width="3" height="5" fill="#fff"/>
<rect x="229.12" y="79" width="3" height="5" fill="#fff"/>
<rect x="229.12" y="95" width="3" height="5" fill="#fff"/>
<rect x="234.75" y="79" width="3" height="5" fill="#fff"/>
<rect x="234.75" y="95" width="3" height="5" fill="#fff"/>
<rect x="240.38" y="79" width="3" height="5" fill="#fff"/>
<rect x="240.38" y="95" width="3" height="5" fill="#fff"/>
<rect x="201.7" y="87" width="18.3" height="5" fill="#fff"/>
<rect x="224" y="87" width="18" height="5" fill="#fff"/>
<polygon points="246.5,86.4 246.5,91.4 243.5,88.9" fill="#fff"/>
<rect x="207" y="61" width="33" height="17.5" rx="3" fill="#000" shape-rendering="geometricPrecision"/>
<rect x="209" y="63" width="29" height="13.5" rx="1" fill="#fff" shape-rendering="geometricPrecision"/>
<rect x="142" y="264" width="60" height="61" fill="#000"/>
<rect x="150" y="266" width="44" height="5" fill="#fff"/>
<rect x="150" y="317" width="44" height="5" fill="#fff"/>
<rect x="144" y="272" width="5" height="44" fill="#fff"/>
<rect x="196" y="272" width="5" height="44" fill="#fff"/>
<rect x="154" y="266" width="1" height="5" fill="#000"/>
<rect x="163" y="266" width="1" height="5" fill="#000"/>
<rect x="183" y="266" width="1" height="5" fill="#000"/>
<rect x="154" y="317" width="1" height="5" fill="#000"/>
<rect x="163" y="317" width="1" height="5" fill="#000"/>
<rect x="183" y="317" width="1" height="5" fill="#000"/>
<rect x="144" y="272" width="5" height="1" fill="#000"/>
<rect x="144" y="280" width="5" height="1" fill="#000"/>
<rect x="144" y="291" width="5" height="1" fill="#000"/>
<rect x="144" y="298" width="5" height="1" fill="#000"/>
<rect x="196" y="276" width="5" height="1" fill="#000"/>
<rect x="196" y="305" width="5" height="1" fill="#000"/>
<rect x="149" y="271" width="46" height="46" fill="#000"/>
<rect x="144" y="266" width="6" height="6" fill="#fff"/>
<polygon points="142,264 146,264 142,268" fill="#fff"/>
<polygon points="146,264 149,264 142,271 142,268" fill="#000"/>
<polygon points="149,271 154,271 149,276" fill="#fff"/>
<circle cx="146.6" cy="268.7" r="3.3" fill="#000" shape-rendering="geometricPrecision"/>
<circle cx="146.6" cy="268.7" r="2.5" fill="#fff" shape-rendering="geometricPrecision"/>
<rect x="143" y="363" width="60" height="60" fill="#000"/>
<rect x="151" y="365" width="44" height="5" fill="#fff"/>
<rect x="151" y="416" width="44" height="5" fill="#fff"/>
<rect x="145" y="371" width="5" height="44" fill="#fff"/>
<rect x="196" y="371" width="5" height="44" fill="#fff"/>
<rect x="157" y="365" width="1" height="5" fill="#000"/>
<rect x="177" y="365" width="1" height="5" fill="#000"/>
<rect x="170" y="416" width="1" height="5" fill="#000"/>
<rect x="179" y="416" width="1" height="5" fill="#000"/>
<rect x="145" y="381" width="5" height="1" fill="#000"/>
<rect x="145" y="410" width="5" height="1" fill="#000"/>
<rect x="196" y="381" width="5" height="1" fill="#000"/>
<rect x="196" y="410" width="5" height="1" fill="#000"/>
<rect x="150" y="370" width="46" height="46" fill="#000"/>
<rect x="145" y="415" width="6" height="6" fill="#fff"/>
<polygon points="143,423 147,423 143,419" fill="#fff"/>
<polygon points="147,423 150,423 143,416 143,419" fill="#000"/>
<polygon points="150,416 154,416 150,412" fill="#fff"/>
<circle cx="147.6" cy="418.4" r="3.3" fill="#000" shape-rendering="geometricPrecision"/>
<circle cx="147.6" cy="418.4" r="2.5" fill="#fff" shape-rendering="geometricPrecision"/>
<rect x="159" y="386" width="28" height="14" rx="1" fill="#fff"/>
<rect x="279" y="343" width="60" height="60" fill="#000"/>
<rect x="287" y="345" width="44" height="5" fill="#fff"/>
<rect x="287" y="396" width="44" height="5" fill="#fff"/>
<rect x="281" y="351" width="5" height="44" fill="#fff"/>
<rect x="332" y="351" width="5" height="44" fill="#fff"/>
<rect x="306" y="345" width="1" height="5" fill="#000"/>
<rect x="313" y="345" width="1" height="5" fill="#000"/>
<rect x="297" y="396" width="1" height="5" fill="#000"/>
<rect x="317" y="396" width="1" height="5" fill="#000"/>
<rect x="326" y="396" width="1" height="5" fill="#000"/>
<rect x="281" y="355" width="5" height="1" fill="#000"/>
<rect x="281" y="384" width="5" height="1" fill="#000"/>
<rect x="332" y="355" width="5" height="1" fill="#000"/>
<rect x="332" y="384" width="5" height="1" fill="#000"/>
<rect x="286" y="350" width="46" height="46" fill="#000"/>
<rect x="281" y="395" width="6" height="6" fill="#fff"/>
<polygon points="279,403 283,403 279,399" fill="#fff"/>
<polygon points="283,403 286,403 279,396 279,399" fill="#000"/>
<polygon points="286,396 290,396 286,392" fill="#fff"/>
<circle cx="283.6" cy="398.4" r="3.3" fill="#000" shape-rendering="geometricPrecision"/>
<circle cx="283.6" cy="398.4" r="2.5" fill="#fff" shape-rendering="geometricPrecision"/>
<rect x="429" y="394" width="60" height="60" fill="#000"/>
<rect x="437" y="396" width="44" height="5" fill="#fff"/>
<rect x="437" y="447" width="44" height="5" fill="#fff"/>
<rect x="431" y="402" width="5" height="44" fill="#fff"/>
<rect x="482" y="402" width="5" height="44" fill="#fff"/>
<rect x="441" y="396" width="1" height="5" fill="#000"/>
<rect x="463" y="396" width="1" height="5" fill="#000"/>
<rect x="456" y="447" width="1" height="5" fill="#000"/>
<rect x="465" y="447" width="1" height="5" fill="#000"/>
<rect x="431" y="406" width="5" height="1" fill="#000"/>
<rect x="431" y="417" width="5" height="1" fill="#000"/>
<rect x="431" y="435" width="5" height="1" fill="#000"/>
<rect x="482" y="406" width="5" height="1" fill="#000"/>
<rect x="482" y="417" width="5" height="1" fill="#000"/>
<rect x="482" y="426" width="5" height="1" fill="#000"/>
<rect x="482" y="435" width="5" height="1" fill="#000"/>
<rect x="436" y="401" width="46" height="46" fill="#000"/>
<rect x="431" y="446" width="6" height="6" fill="#fff"/>
<polygon points="429,454 433,454 429,450" fill="#fff"/>
<polygon points="433,454 436,454 429,447 429,450" fill="#000"/>
<polygon points="436,447 440,447 436,443" fill="#fff"/>
<circle cx="433.6" cy="449.4" r="3.3" fill="#000" shape-rendering="geometricPrecision"/>
<circle cx="433.6" cy="449.4" r="2.5" fill="#fff" shape-rendering="geometricPrecision"/>
<rect x="248" y="442" width="127" height="42" fill="#000"/>
<ellipse cx="375.6" cy="462.5" rx="3" ry="15" fill="#fff" shape-rendering="geometricPrecision"/>
<rect x="297" y="455" width="28" height="15" rx="1" fill="#fff"/>
<rect x="83" y="460" width="126" height="43" fill="#000"/>
<rect x="88" y="470" width="109" height="23" fill="#fff"/>
<rect x="86" y="462" width="3" height="6" fill="#fff"/>
<rect x="86" y="496" width="3" height="5" fill="#fff"/>
<rect x="92.2" y="462" width="3" height="6" fill="#fff"/>
<rect x="92.2" y="496" width="3" height="5" fill="#fff"/>
<rect x="98.4" y="462" width="3" height="6" fill="#fff"/>
<rect x="98.4" y="496" width="3" height="5" fill="#fff"/>
<rect x="104.6" y="462" width="3" height="6" fill="#fff"/>
<rect x="104.6" y="496" width="3" height="5" fill="#fff"/>
<rect x="110.8" y="462" width="3" height="6" fill="#fff"/>
<rect x="110.8" y="496" width="3" height="5" fill="#fff"/>
<rect x="117" y="462" width="3" height="6" fill="#fff"/>
<rect x="117" y="496" width="3" height="5" fill="#fff"/>
<rect x="123.2" y="462" width="3" height="6" fill="#fff"/>
<rect x="123.2" y="496" width="3" height="5" fill="#fff"/>
<rect x="129.4" y="462" width="3" height="6" fill="#fff"/>
<rect x="129.4" y="496" width="3" height="5" fill="#fff"/>
<rect x="135.6" y="462" width="3" height="6" fill="#fff"/>
<rect x="135.6" y="496" width="3" height="5" fill="#fff"/>
<rect x="141.8" y="462" width="3" height="6" fill="#fff"/>
<rect x="141.8" y="496" width="3" height="5" fill="#fff"/>
<rect x="148" y="462" width="3" height="6" fill="#fff"/>
<rect x="148" y="496" width="3" height="5" fill="#fff"/>
<rect x="154.2" y="462" width="3" height="6" fill="#fff"/>
<rect x="154.2" y="496" width="3" height="5" fill="#fff"/>
<rect x="160.4" y="462" width="3" height="6" fill="#fff"/>
<rect x="160.4" y="496" width="3" height="5" fill="#fff"/>
<rect x="166.6" y="462" width="3" height="6" fill="#fff"/>
<rect x="166.6" y="496" width="3" height="5" fill="#fff"/>
<rect x="172.8" y="462" width="3" height="6" fill="#fff"/>
<rect x="172.8" y="496" width="3" height="5" fill="#fff"/>
<rect x="179" y="462" width="3" height="6" fill="#fff"/>
<rect x="179" y="496" width="3" height="5" fill="#fff"/>
<rect x="185.2" y="462" width="3" height="6" fill="#fff"/>
<rect x="185.2" y="496" width="3" height="5" fill="#fff"/>
<rect x="191.4" y="462" width="3" height="6" fill="#fff"/>
<rect x="191.4" y="496" width="3" height="5" fill="#fff"/>
<rect x="197.6" y="462" width="3" height="6" fill="#fff"/>
<rect x="197.6" y="496" width="3" height="5" fill="#fff"/>
<rect x="203.8" y="462" width="3" height="6" fill="#fff"/>
<rect x="203.8" y="496" width="3" height="5" fill="#fff"/>
<rect x="141" y="470" width="4" height="23" fill="#000"/>
<circle cx="209.5" cy="481.5" r="5" fill="#fff" shape-rendering="geometricPrecision"/>
<rect x="129.5" y="471" width="33" height="20" rx="4" fill="#000" shape-rendering="geometricPrecision"/>
<rect x="131.5" y="473" width="29" height="16" rx="2" fill="#fff" shape-rendering="geometricPrecision"/>
<rect x="22" y="470" width="49" height="27" fill="#000"/>
<rect x="23" y="471" width="47" height="25" fill="#fff"/>
<rect x="23.5" y="471.5" width="46" height="24" rx="3" fill="none" stroke="#000" stroke-width="1" shape-rendering="geometricPrecision"/>
<rect x="22" y="495" width="49" height="2" fill="#000"/>
<polygon points="31,239 34,241.5 22.5,250" fill="#fff" stroke="#000" stroke-width="2" stroke-linejoin="round" shape-rendering="geometricPrecision"/>
<rect x="29" y="224" width="25" height="18.7" rx="3.5" fill="#000" shape-rendering="geometricPrecision"/>
<rect x="31" y="226" width="21" height="14.7" rx="1.5" fill="#fff" shape-rendering="geometricPrecision"/>
<polygon points="31,262 34,264.5 21.5,270.5" fill="#fff" stroke="#000" stroke-width="2" stroke-linejoin="round" shape-rendering="geometricPrecision"/>
<rect x="29" y="247" width="25" height="18.8" rx="3.5" fill="#000" shape-rendering="geometricPrecision"/>
<rect x="31" y="249" width="21" height="14.8" rx="1.5" fill="#fff" shape-rendering="geometricPrecision"/>
<polygon points="31,286.5 34,288.5 21.5,294.5" fill="#fff" stroke="#000" stroke-width="2" stroke-linejoin="round" shape-rendering="geometricPrecision"/>
<rect x="29" y="271.5" width="25" height="18.5" rx="3.5" fill="#000" shape-rendering="geometricPrecision"/>
<rect x="31" y="273.5" width="21" height="14.5" rx="1.5" fill="#fff" shape-rendering="geometricPrecision"/>
<polygon points="30,316.5 33,318.5 21.5,328" fill="#fff" stroke="#000" stroke-width="2" stroke-linejoin="round" shape-rendering="geometricPrecision"/>
<rect x="28" y="302" width="25" height="18" rx="3.5" fill="#000" shape-rendering="geometricPrecision"/>
<rect x="30" y="304" width="21" height="14" rx="1.5" fill="#fff" shape-rendering="geometricPrecision"/>
<polygon points="30,358.5 33,360.5 21.5,369" fill="#fff" stroke="#000" stroke-width="2" stroke-linejoin="round" shape-rendering="geometricPrecision"/>
<rect x="28" y="343" width="25" height="19" rx="3.5" fill="#000" shape-rendering="geometricPrecision"/>
<rect x="30" y="345" width="21" height="15" rx="1.5" fill="#fff" shape-rendering="geometricPrecision"/>
<polygon points="117,259.5 120,261.5 108.5,270" fill="#fff" stroke="#000" stroke-width="2" stroke-linejoin="round" shape-rendering="geometricPrecision"/>
<rect x="115" y="244" width="25" height="19" rx="3.5" fill="#000" shape-rendering="geometricPrecision"/>
<rect x="117" y="246" width="21" height="15" rx="1.5" fill="#fff" shape-rendering="geometricPrecision"/>
<polygon points="82.5,294 85.5,296.5 93.5,285.5" fill="#fff" stroke="#000" stroke-width="2" stroke-linejoin="round" shape-rendering="geometricPrecision"/>
<rect x="61.5" y="292" width="25.5" height="18.5" rx="3.5" fill="#000" shape-rendering="geometricPrecision"/>
<rect x="63.5" y="294" width="21.5" height="14.5" rx="1.5" fill="#fff" shape-rendering="geometricPrecision"/>
<polygon points="114,294 117,296.5 125,285.5" fill="#fff" stroke="#000" stroke-width="2" stroke-linejoin="round" shape-rendering="geometricPrecision"/>
<rect x="92" y="292" width="26.5" height="18.5" rx="3.5" fill="#000" shape-rendering="geometricPrecision"/>
<rect x="94" y="294" width="22.5" height="14.5" rx="1.5" fill="#fff" shape-rendering="geometricPrecision"/>
<polygon points="582,403 586,407 596.5,392 594.5,391.5" fill="#fff" stroke="#000" stroke-width="2" stroke-linejoin="round" shape-rendering="geometricPrecision"/>
<rect x="562.5" y="401" width="25" height="18.5" rx="3.5" fill="#000" shape-rendering="geometricPrecision"/>
<rect x="564.5" y="403" width="21" height="14.5" rx="1.5" fill="#fff" shape-rendering="geometricPrecision"/>
<polygon points="288,499.5 288,507.5 297,505 305.5,504.3 305.5,503.2 297,502.3" fill="#fff" stroke="#000" stroke-width="2" stroke-linejoin="round" shape-rendering="geometricPrecision"/>
<rect x="264" y="495" width="25.5" height="18" rx="3.5" fill="#000" shape-rendering="geometricPrecision"/>
<rect x="266" y="497" width="21.5" height="14" rx="1.5" fill="#fff" shape-rendering="geometricPrecision"/>
<rect x="14" y="242" width="7" height="14" fill="#000"/>
<rect x="15" y="243" width="5" height="12" fill="#fff"/>
<rect x="15" y="244" width="4" height="4.2" fill="#000"/>
<rect x="15" y="249" width="4" height="4.6" fill="#000"/>
<rect x="14" y="262" width="7" height="14" fill="#000"/>
<rect x="15" y="263" width="5" height="12" fill="#fff"/>
<rect x="15" y="264" width="4" height="4.2" fill="#000"/>
<rect x="15" y="269" width="4" height="4.6" fill="#000"/>
<rect x="14" y="287" width="7" height="13.6" fill="#000"/>
<rect x="15" y="288" width="5" height="11.6" fill="#fff"/>
<rect x="15" y="288" width="4" height="5.3" fill="#000"/>
<rect x="15" y="294.3" width="4" height="5.3" fill="#000"/>
<rect x="14" y="311" width="7" height="30.5" fill="#000"/>
<rect x="15" y="312" width="5" height="28.5" fill="#fff"/>
<rect x="15" y="312" width="4" height="4.9" fill="#000"/>
<rect x="15" y="317.9" width="4" height="4.9" fill="#000"/>
<rect x="15" y="323.8" width="4" height="4.9" fill="#000"/>
<rect x="15" y="329.7" width="4" height="4.9" fill="#000"/>
<rect x="15" y="335.6" width="4" height="3.9" fill="#000"/>
<rect x="16" y="336.8" width="2.2" height="2.4" fill="#fff"/>
<rect x="14" y="355" width="7" height="26.2" fill="#000"/>
<rect x="15" y="356" width="5" height="24.2" fill="#fff"/>
<rect x="15" y="356" width="4" height="5.3" fill="#000"/>
<rect x="15" y="362.3" width="4" height="5.3" fill="#000"/>
<rect x="15" y="368.6" width="4" height="5.3" fill="#000"/>
<rect x="15" y="374.9" width="4" height="4.3" fill="#000"/>
<rect x="16" y="376.1" width="2.2" height="2.4" fill="#fff"/>
<rect x="90" y="271" width="6" height="13" fill="#000"/>
<rect x="91" y="273" width="4" height="1" fill="#fff"/>
<rect x="91" y="277.5" width="4" height="1" fill="#fff"/>
<rect x="105.5" y="271" width="6" height="13" fill="#000"/>
<rect x="106.5" y="273" width="4" height="1" fill="#fff"/>
<rect x="106.5" y="277.5" width="4" height="1" fill="#fff"/>
<rect x="121" y="271" width="6" height="13" fill="#000"/>
<rect x="122" y="273" width="4" height="1" fill="#fff"/>
<rect x="122" y="277.5" width="4" height="1" fill="#fff"/>
<rect x="596" y="382" width="6" height="25.5" fill="#000"/>
<rect x="597" y="388" width="4" height="1" fill="#fff"/>
<rect x="597" y="394" width="4" height="1" fill="#fff"/>
<rect x="597" y="400" width="4" height="1" fill="#fff"/>
<rect x="598" y="402" width="2.4" height="2.4" fill="#fff"/>
<rect x="597" y="405.6" width="4" height="1" fill="#fff"/>
<rect x="306" y="500" width="14" height="7" fill="#000"/>
<rect x="310.5" y="501.5" width="1" height="4" fill="#fff"/>
<rect x="315.5" y="501.5" width="1" height="4" fill="#fff"/>
<polygon points="614,369.5 612.5,371 612.5,376 614,377.5 614,386 612.5,387.5 612.5,391 614,392.5 614,400 612.5,401.5 612.5,405.5 614,407 616.5,409.5 636,409.5 638.5,407 640,405.5 640,401.5 638.5,400 638.5,392.5 640,391 640,387.5 638.5,386 638.5,377.5 640,376 640,371 638.5,369.5" fill="url(#dots)" stroke="#000" stroke-width="1" shape-rendering="geometricPrecision"/>
<path d="M395,468.5 H419 V487.5 H395 L393.5,486 V470 Z" fill="url(#dots)" stroke="#000" stroke-width="1"/>
<rect x="419" y="467" width="2" height="22" fill="#000"/>
<rect x="421" y="471" width="6" height="1" fill="#000"/>
<rect x="421" y="485" width="6" height="1" fill="#000"/>
<rect x="616" y="439" width="24" height="37" fill="#000"/>
<rect x="640" y="435" width="3" height="45" fill="#000"/>
<rect x="643" y="432" width="4" height="51" fill="#000"/>
<rect x="609" y="448" width="5" height="8" fill="#000"/>
<rect x="610" y="449" width="3" height="6" fill="#fff"/>
<rect x="609" y="459" width="5" height="9" fill="#000"/>
<rect x="610" y="460" width="3" height="7" fill="#fff"/>
<rect x="613" y="445" width="3" height="1" fill="#000"/>
<rect x="613" y="445" width="1" height="25" fill="#000"/>
<rect x="613" y="469" width="3" height="1" fill="#000"/>
<rect x="614.5" y="447" width="1.5" height="1" fill="#000"/>
<rect x="614.5" y="449" width="1.5" height="1" fill="#000"/>
<rect x="614.5" y="451" width="1.5" height="1" fill="#000"/>
<rect x="614.5" y="453" width="1.5" height="1" fill="#000"/>
<rect x="614.5" y="461" width="1.5" height="1" fill="#000"/>
<rect x="614.5" y="463" width="1.5" height="1" fill="#000"/>
<rect x="614.5" y="465" width="1.5" height="1" fill="#000"/>
<rect x="614.5" y="467" width="1.5" height="1" fill="#000"/>
<rect x="469" y="483" width="113" height="24" fill="#000"/>
<rect x="470" y="484" width="111" height="22" fill="#fff"/>
<rect x="470" y="490" width="111" height="1" fill="#000"/>
<rect x="474" y="496" width="105" height="1" fill="#000"/>
<rect x="471.3" y="493" width="6.5" height="2" fill="#000"/>
<rect x="471.6" y="486" width="6" height="3" fill="#000"/>
<rect x="472.6" y="487" width="4" height="1" fill="#fff"/>
<rect x="472.8" y="489" width="4" height="1" fill="#000"/>
<rect x="480.65" y="493" width="6.5" height="2" fill="#000"/>
<rect x="480.95" y="486" width="6" height="3" fill="#000"/>
<rect x="481.95" y="487" width="4" height="1" fill="#fff"/>
<rect x="482.15" y="489" width="4" height="1" fill="#000"/>
<rect x="490" y="493" width="6.5" height="2" fill="#000"/>
<rect x="490.3" y="486" width="6" height="3" fill="#000"/>
<rect x="491.3" y="487" width="4" height="1" fill="#fff"/>
<rect x="491.5" y="489" width="4" height="1" fill="#000"/>
<rect x="499.35" y="493" width="6.5" height="2" fill="#000"/>
<rect x="499.65" y="486" width="6" height="3" fill="#000"/>
<rect x="500.65" y="487" width="4" height="1" fill="#fff"/>
<rect x="500.85" y="489" width="4" height="1" fill="#000"/>
<rect x="508.7" y="493" width="6.5" height="2" fill="#000"/>
<rect x="509" y="486" width="6" height="3" fill="#000"/>
<rect x="510" y="487" width="4" height="1" fill="#fff"/>
<rect x="510.2" y="489" width="4" height="1" fill="#000"/>
<rect x="518.05" y="493" width="6.5" height="2" fill="#000"/>
<rect x="518.35" y="486" width="6" height="3" fill="#000"/>
<rect x="519.35" y="487" width="4" height="1" fill="#fff"/>
<rect x="519.55" y="489" width="4" height="1" fill="#000"/>
<rect x="527.4" y="493" width="6.5" height="2" fill="#000"/>
<rect x="527.7" y="486" width="6" height="3" fill="#000"/>
<rect x="528.7" y="487" width="4" height="1" fill="#fff"/>
<rect x="528.9" y="489" width="4" height="1" fill="#000"/>
<rect x="536.75" y="493" width="6.5" height="2" fill="#000"/>
<rect x="537.05" y="486" width="6" height="3" fill="#000"/>
<rect x="538.05" y="487" width="4" height="1" fill="#fff"/>
<rect x="538.25" y="489" width="4" height="1" fill="#000"/>
<rect x="546.1" y="493" width="6.5" height="2" fill="#000"/>
<rect x="546.4" y="486" width="6" height="3" fill="#000"/>
<rect x="547.4" y="487" width="4" height="1" fill="#fff"/>
<rect x="547.6" y="489" width="4" height="1" fill="#000"/>
<rect x="555.45" y="493" width="6.5" height="2" fill="#000"/>
<rect x="555.75" y="486" width="6" height="3" fill="#000"/>
<rect x="556.75" y="487" width="4" height="1" fill="#fff"/>
<rect x="556.95" y="489" width="4" height="1" fill="#000"/>
<rect x="564.8" y="493" width="6.5" height="2" fill="#000"/>
<rect x="565.1" y="486" width="6" height="3" fill="#000"/>
<rect x="566.1" y="487" width="4" height="1" fill="#fff"/>
<rect x="566.3" y="489" width="4" height="1" fill="#000"/>
<rect x="574.15" y="493" width="6.5" height="2" fill="#000"/>
<rect x="574.45" y="486" width="6" height="3" fill="#000"/>
<rect x="575.45" y="487" width="4" height="1" fill="#fff"/>
<rect x="575.65" y="489" width="4" height="1" fill="#000"/>
<rect x="475" y="496" width="7" height="9" fill="#000"/>
<rect x="476" y="497" width="5" height="7" fill="#fff"/>
<rect x="484.35" y="496" width="7" height="9" fill="#000"/>
<rect x="485.35" y="497" width="5" height="7" fill="#fff"/>
<rect x="493.7" y="496" width="7" height="9" fill="#000"/>
<rect x="494.7" y="497" width="5" height="7" fill="#fff"/>
<rect x="503.05" y="496" width="7" height="9" fill="#000"/>
<rect x="504.05" y="497" width="5" height="7" fill="#fff"/>
<rect x="512.4" y="496" width="7" height="9" fill="#000"/>
<rect x="513.4" y="497" width="5" height="7" fill="#fff"/>
<rect x="521.75" y="496" width="7" height="9" fill="#000"/>
<rect x="522.75" y="497" width="5" height="7" fill="#fff"/>
<rect x="531.1" y="496" width="7" height="9" fill="#000"/>
<rect x="532.1" y="497" width="5" height="7" fill="#fff"/>
<rect x="540.45" y="496" width="7" height="9" fill="#000"/>
<rect x="541.45" y="497" width="5" height="7" fill="#fff"/>
<rect x="549.8" y="496" width="7" height="9" fill="#000"/>
<rect x="550.8" y="497" width="5" height="7" fill="#fff"/>
<rect x="559.15" y="496" width="7" height="9" fill="#000"/>
<rect x="560.15" y="497" width="5" height="7" fill="#fff"/>
<rect x="568.5" y="496" width="7" height="9" fill="#000"/>
<rect x="569.5" y="497" width="5" height="7" fill="#fff"/>
<rect x="470" y="497" width="3" height="1" fill="#000"/>
<rect x="470" y="500" width="3" height="1" fill="#000"/>
<rect x="470" y="503" width="3" height="1" fill="#000"/>
<rect x="472" y="497" width="1" height="7" fill="#000"/>
<rect x="578" y="497" width="3" height="1" fill="#000"/>
<rect x="578" y="500" width="3" height="1" fill="#000"/>
<rect x="578" y="503" width="3" height="1" fill="#000"/>
<rect x="578" y="497" width="1" height="7" fill="#000"/><g filter="url(#th)"><text transform="translate(313,65.7) scale(0.8,1)" font-size="12.5" letter-spacing="2.54">BIOS</text>
<text transform="translate(313,109.4) scale(0.8,1)" font-size="12.5" letter-spacing="2.54">BIOS</text>
<text transform="translate(107,22.8) scale(0.75,1)" font-size="13" letter-spacing="2.92">BANK 3</text>
<text transform="translate(107,114.8) scale(0.75,1)" font-size="13" letter-spacing="2.92">BANK 3</text>
<text transform="translate(106.5,164.8) scale(0.75,1)" font-size="13" letter-spacing="3.05">BANK 2</text>
<text transform="translate(106.5,210.8) scale(0.75,1)" font-size="13" letter-spacing="3.05">BANK 2</text>
<text transform="translate(82.6,68.8) scale(0.75,1)" font-size="13" letter-spacing="3">BANK 1</text>
<text transform="translate(82,141) scale(0.75,1)" font-size="13" letter-spacing="3.16">BANK 0</text>
<text transform="translate(182.2,141) scale(0.75,1)" font-size="13" letter-spacing="2.23">P-0</text>
<text transform="translate(82,188.2) scale(0.75,1)" font-size="13" letter-spacing="3.16">BANK 0</text>
<text transform="translate(182.2,188.2) scale(0.75,1)" font-size="13" letter-spacing="2.23">P-0</text>
<text transform="translate(214,73.4) scale(0.75,1)" font-size="13" letter-spacing="0.83">P-1</text>
<text transform="translate(160,396.7) scale(0.75,1)" font-size="13" letter-spacing="4.02">CPU</text>
<text transform="translate(299.5,466.3) scale(0.75,1)" font-size="13" letter-spacing="2.44">KBD</text>
<text transform="translate(133.9,484.7) scale(0.75,1)" font-size="13" letter-spacing="3.68">NPU</text></g><g filter="url(#th2)"><text transform="translate(458.3,77.6) scale(0.85,1)" font-size="10.5" x="0 11.8">MH<tspan font-size="10" x="20.4 28.2 35.9 43.5">0524</tspan></text>
<text transform="translate(34.2,236.5) scale(0.75,1)" font-size="13" letter-spacing="2.55">J3</text>
<text transform="translate(34.8,259.7) scale(0.75,1)" font-size="13" letter-spacing="1.22">J1</text>
<text transform="translate(34,283.5) scale(0.75,1)" font-size="13" letter-spacing="2.95">J2</text>
<text transform="translate(32,314.6) scale(0.75,1)" font-size="13" letter-spacing="4.02">J5</text>
<text transform="translate(33,355.5) scale(0.75,1)" font-size="13" letter-spacing="2.29">J4</text>
<text transform="translate(120,256.6) scale(0.75,1)" font-size="13" letter-spacing="3.22">J0</text>
<text transform="translate(66,304.8) scale(0.75,1)" font-size="13" letter-spacing="3.49">J9</text>
<text transform="translate(97.7,304.8) scale(0.75,1)" font-size="13" letter-spacing="4.02">J8</text>
<text transform="translate(568.2,413.9) scale(0.75,1)" font-size="13" letter-spacing="3.22">J6</text>
<text transform="translate(269.2,507.6) scale(0.75,1)" font-size="13" letter-spacing="2.29">J7</text></g></svg></body></html>
